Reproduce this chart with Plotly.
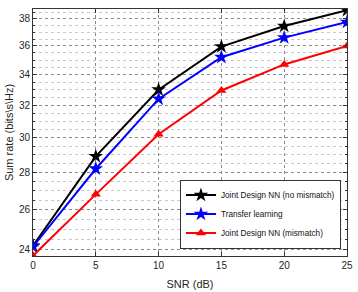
import plotly.graph_objects as go

snr = [0, 5, 10, 15, 20, 25]
joint_no_mismatch = [24.2, 28.9, 33.0, 35.95, 37.45, 38.65]
transfer_learning = [24.15, 28.2, 32.4, 35.2, 36.6, 37.75]
joint_mismatch = [23.72, 26.8, 30.2, 32.95, 34.7, 36.0]
names = ["Joint Design NN (no mismatch)", "Transfer learning", "Joint Design NN (mismatch)"]
y_major = [24, 26, 28, 30, 32, 34, 36, 38]
y_minor = [v / 2 for v in range(47, 78)]
x_ticks = [0, 5, 10, 15, 20, 25]

fig = go.Figure()
series = [
    (joint_no_mismatch, names[0], "black", "star", 11),
    (transfer_learning, names[1], "blue", "star", 11),
    (joint_mismatch, names[2], "red", "triangle-up", 9),
]
for ys, nm, col, sym, sz in series:
    fig.add_trace(go.Scatter(
        x=snr, y=ys, name=nm, mode="lines+markers",
        line=dict(color=col, width=2),
        marker=dict(symbol=sym, size=sz, color=col, line=dict(width=0)),
    ))

axis_common = dict(
    showline=True, linecolor="#333333", linewidth=1, mirror="ticks",
    ticks="inside", tickcolor="#333333", ticklen=4,
    showgrid=True, gridcolor="#8a8a8a", griddash="dot", gridwidth=1,
    zeroline=False, ticklabeloverflow="allow",
    tickfont=dict(family="Liberation Sans, Arial", size=10, color="#262626"),
)

fig.update_layout(
    width=358, height=292,
    margin=dict(l=33, r=11, t=9, b=36, autoexpand=False),
    paper_bgcolor="white", plot_bgcolor="white",
    font=dict(family="Liberation Sans, Arial", size=10, color="#262626"),
    xaxis=dict(range=[0, 25], tickvals=x_ticks,
               title=dict(text="SNR (dB)", standoff=10, font=dict(size=11)),
               **axis_common),
    yaxis=dict(type="log", range=[1.3749, 1.5882], tickvals=y_major,
               title=dict(text="Sum rate (bits\\s\\Hz)", standoff=3, font=dict(size=11)),
               minor=dict(tickmode="array", tickvals=y_minor, showgrid=True,
                          gridcolor="#c8c8c8", griddash="dot", ticks="inside",
                          ticklen=2, tickcolor="#333333"),
               **axis_common),
    legend=dict(x=0.468, y=0.03, xanchor="left", yanchor="bottom",
                bgcolor="white", bordercolor="#333333", borderwidth=1,
                font=dict(size=8.2, color="#111111"), itemwidth=30,
                tracegroupgap=0),
    showlegend=True,
)

fig.write_html("out.html", config={"displayModeBar": False},
               post_script="document.body.style.margin='0';")
